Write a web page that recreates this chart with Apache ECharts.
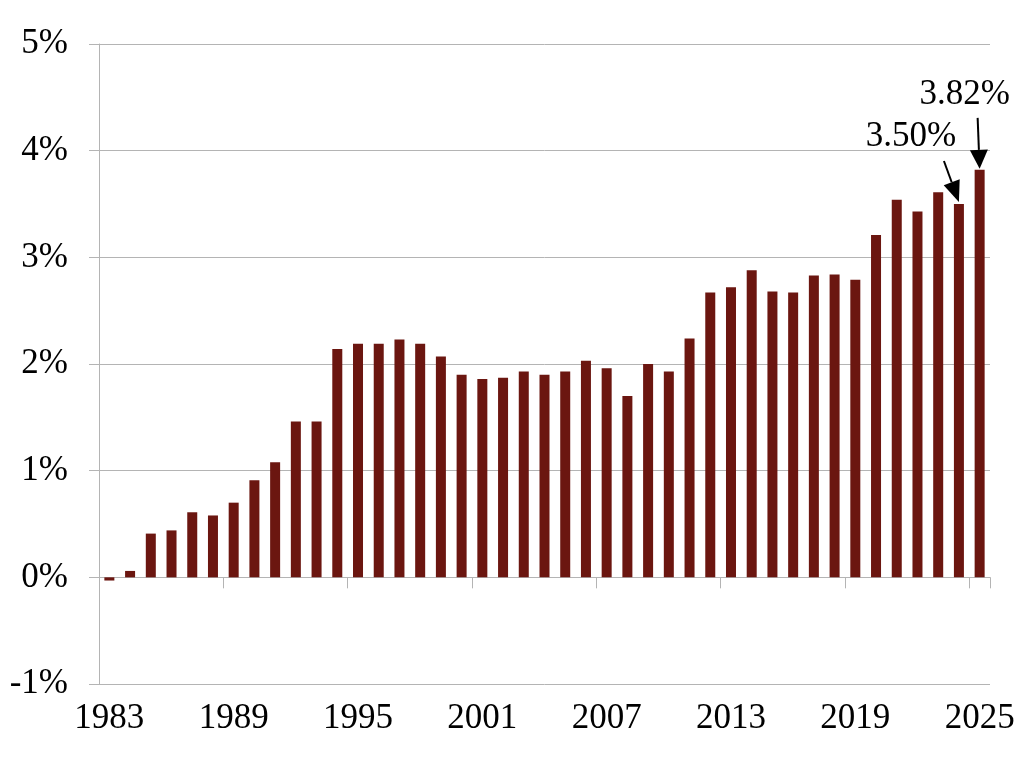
<!DOCTYPE html>
<html>
<head>
<meta charset="utf-8">
<script src="https://cdn.jsdelivr.net/npm/echarts@6/dist/echarts.min.js"></script>
<style>
html,body{margin:0;padding:0;background:#fff;}
#chart{width:1024px;height:768px;}
</style>
</head>
<body>
<div id="chart"></div>
<script>
const years = [1983,1984,1985,1986,1987,1988,1989,1990,1991,1992,1993,1994,1995,1996,1997,1998,1999,2000,2001,2002,2003,2004,2005,2006,2007,2008,2009,2010,2011,2012,2013,2014,2015,2016,2017,2018,2019,2020,2021,2022,2023,2024,2025].map(String);
const values = [-0.03,0.06,0.41,0.44,0.61,0.58,0.70,0.91,1.08,1.46,1.46,2.14,2.19,2.19,2.23,2.19,2.07,1.90,1.86,1.87,1.93,1.90,1.93,2.03,1.96,1.70,2.00,1.93,2.24,2.67,2.72,2.88,2.68,2.67,2.83,2.84,2.79,3.21,3.54,3.43,3.61,3.50,3.82];
const annotations = [
  {year:'2024', value:3.50, text:'3.50%'},
  {year:'2025', value:3.82, text:'3.82%'}
];

const FONT = 'Liberation Serif';
const GRAY = '#b4b4b4';
const chart = echarts.init(document.getElementById('chart'));
chart.setOption({
  animation:false,
  backgroundColor:'#fff',
  grid:{left:99,right:34,top:44,bottom:84},
  xAxis:[{
    type:'category', data:years, position:'bottom',
    axisLine:{show:false,onZero:false}, axisTick:{show:false},
    axisLabel:{interval:5, margin:17, fontFamily:FONT, fontSize:35, color:'#000'},
    splitLine:{show:false}
  },{
    type:'category', data:years, position:'top',
    axisLine:{show:true,onZero:true,lineStyle:{color:GRAY,width:1}},
    axisTick:{show:true,inside:true,interval:function(i){return i%6===0 && i<years.length;},length:11,lineStyle:{color:GRAY}},
    axisLabel:{show:false}, splitLine:{show:false}
  }],
  yAxis:{
    type:'value', min:-1, max:5, interval:1,
    axisLine:{show:true,lineStyle:{color:GRAY}},
    axisTick:{show:true,length:10,lineStyle:{color:GRAY}},
    axisLabel:{formatter:'{value}%', margin:31, fontFamily:FONT, fontSize:35, color:'#000'},
    splitLine:{show:true,lineStyle:{color:GRAY,width:1}}
  },
  series:[{
    type:'bar', data:values, xAxisIndex:0, barWidth:10,
    itemStyle:{color:'#6b1610'}
  }]
});

// annotations: arrows and text placed relative to the bar tops
const g = [];
const tip25 = chart.convertToPixel({xAxisIndex:0,yAxisIndex:0},[annotations[1].year, annotations[1].value]);
const tip24 = chart.convertToPixel({xAxisIndex:0,yAxisIndex:0},[annotations[0].year, annotations[0].value]);
function arrow(tip, from, hl, hw){
  const dx = tip[0]-from[0], dy = tip[1]-from[1];
  const L = Math.sqrt(dx*dx+dy*dy); const ux = dx/L, uy = dy/L;
  const bx = tip[0]-ux*hl, by = tip[1]-uy*hl;
  g.push({type:'line', shape:{x1:from[0],y1:from[1],x2:bx,y2:by}, style:{stroke:'#000',lineWidth:2}});
  g.push({type:'polygon', shape:{points:[[tip[0],tip[1]],[bx-uy*hw,by+ux*hw],[bx+uy*hw,by-ux*hw]]}, style:{fill:'#000'}});
}
arrow([tip25[0], tip25[1]-1], [tip25[0]-2, tip25[1]-52], 19, 9);
arrow([tip24[0], tip24[1]-2], [tip24[0]-15, tip24[1]-43], 21, 8.5);
g.push({type:'text', style:{text:annotations[1].text, x:tip25[0]-15, y:tip25[1]-75, align:'center', verticalAlign:'middle', font:'35px "Liberation Serif"', fill:'#000'}});
g.push({type:'text', style:{text:annotations[0].text, x:tip24[0]-48, y:tip24[1]-67, align:'center', verticalAlign:'middle', font:'35px "Liberation Serif"', fill:'#000'}});
chart.setOption({graphic:g});
</script>
</body>
</html>
